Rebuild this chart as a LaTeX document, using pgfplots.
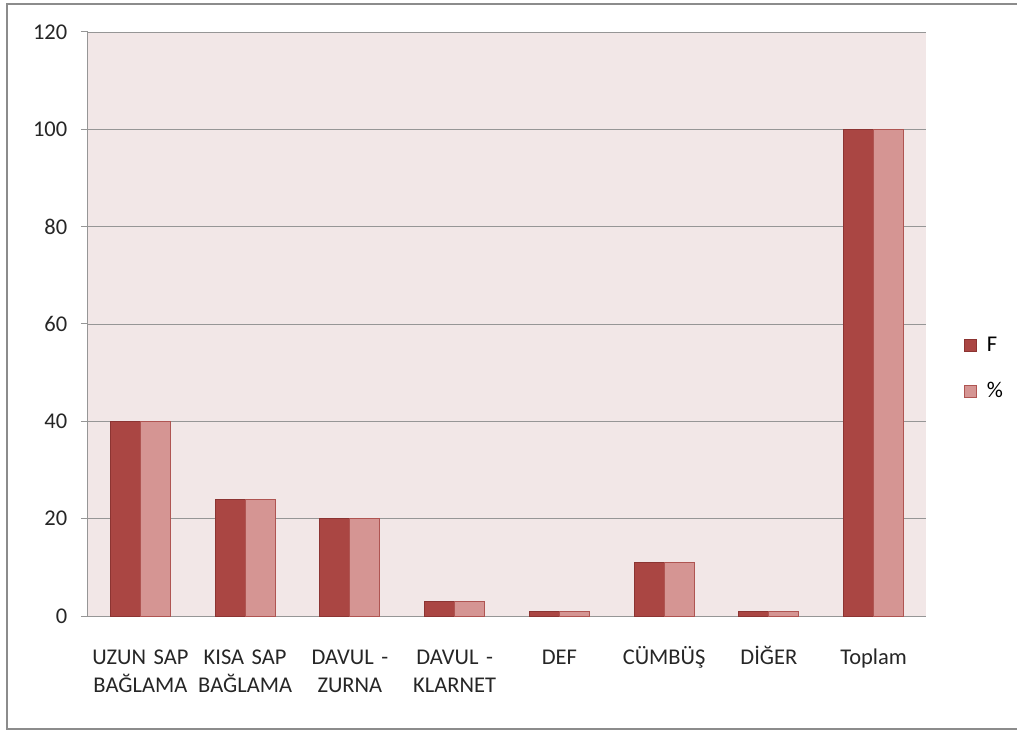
\documentclass[border=0pt]{standalone}
\usepackage{fontspec}
\setmainfont{Carlito}
\usepackage{pgfplots}
\pgfplotsset{compat=1.18}
\definecolor{cF}{RGB}{170,70,67}
\definecolor{cFd}{RGB}{140,52,50}
\definecolor{cP}{RGB}{213,149,147}
\definecolor{cPd}{RGB}{175,85,82}
\definecolor{bgc}{RGB}{242,231,231}
\definecolor{gridc}{RGB}{150,150,150}
\newcommand{\st}{\rule{0pt}{20pt}}
\begin{document}
\begin{tikzpicture}[x=1pt,y=1pt]
\useasboundingbox (0,0) rectangle (1017,731);
\draw[line width=1.8pt, color={rgb,255:red,140;green,140;blue,140}] (1025,727) -- (7,727) -- (7,2) -- (1025,2);
\fontsize{22.5}{28}\selectfont
\begin{axis}[
  at={(88pt,115pt)}, anchor=south west,
  scale only axis, width=838pt, height=584pt,
  xmin=-0.5, xmax=7.5, ymin=0, ymax=120,
  ytick={0,20,...,120},
  xtick={0,...,7},
  xticklabels={{\st UZUN SAP\\BAĞLAMA},{\st KISA SAP\\BAĞLAMA},{\st DAVUL -\\ZURNA},{\st DAVUL -\\KLARNET},{\st DEF},{\st CÜMBÜŞ},{\st DİĞER},{\st Toplam}},
  xticklabel style={align=center, text width=120pt, yshift=-14pt, font=\fontsize{22.5}{28}\selectfont, text=black!85},
  yticklabel style={font=\fontsize{22.5}{28}\selectfont, xshift=-6pt, text=black!85},
  /pgf/number format/assume math mode=true,
  axis lines*=left,
  axis line style={gridc, line width=1pt, -},
  ymajorgrids, grid style={gridc, line width=0.8pt},
  x tick style={draw=none},
  y tick style={gridc, line width=1pt},
  major tick length=7pt,
  tick align=outside,
  extra x ticks={-0.5,0.5,...,7.5},
  extra x tick labels={},
  extra x tick style={grid=none, tick style={draw=gridc, line width=1pt}, major tick length=9pt},
  axis background/.style={fill=bgc},
  ybar=0pt, bar width=30pt,
  legend style={at={(1.0415,0.423)}, anchor=west, draw=none, fill=none,
    font=\fontsize{22.5}{28}\selectfont, row sep=24pt, cells={anchor=west}},
  legend image code/.code={\draw[#1, line width=0.8pt] (0pt,-6pt) rectangle (12pt,6pt); \path (20pt,0pt);},
]
\addplot[fill=cF, draw=cFd, line width=0.8pt, bar shift=-15pt] coordinates {(0,40) (1,24) (2,20) (3,3) (4,1) (5,11) (6,1) (7,100)};
\addplot[fill=cP, draw=cPd, line width=0.8pt, bar shift=15pt] coordinates {(0,40) (1,24) (2,20) (3,3) (4,1) (5,11) (6,1) (7,100)};
\legend{F,\%}
\end{axis}
\end{tikzpicture}
\end{document}
